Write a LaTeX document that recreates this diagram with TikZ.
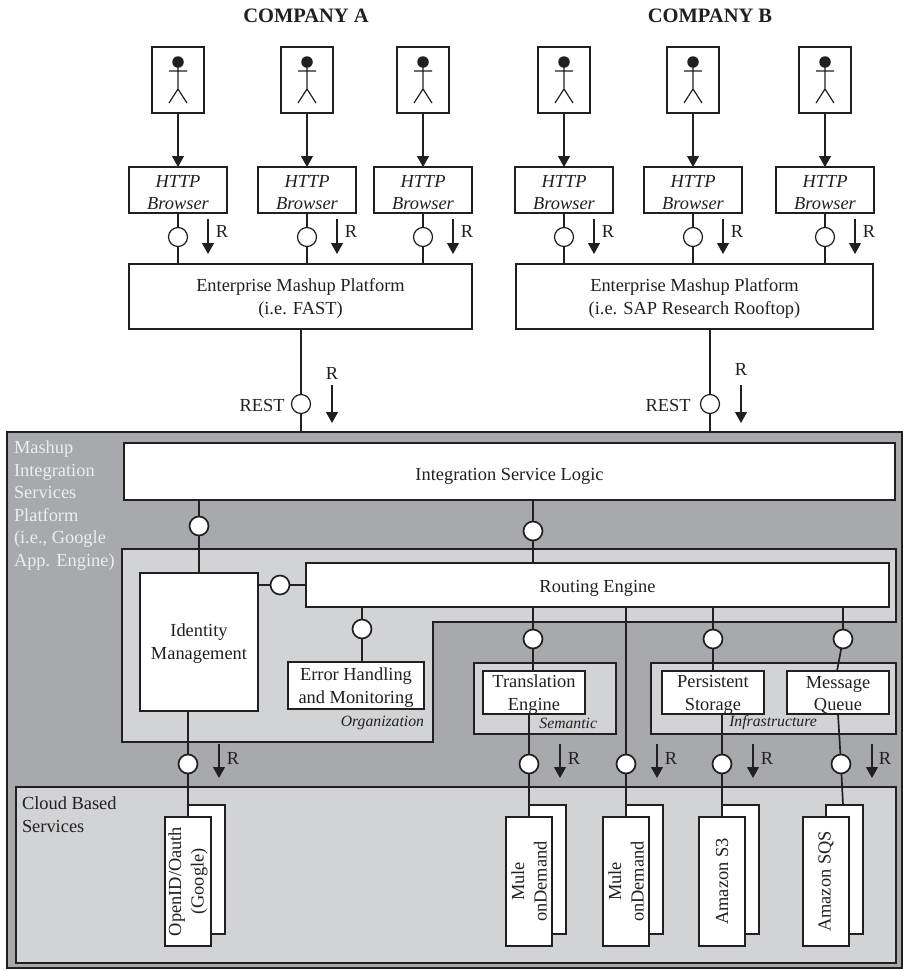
\documentclass[tikz,border=0pt]{standalone}
\usepackage{fontspec}
\setmainfont{Liberation Serif}
\usetikzlibrary{arrows.meta}
\pgfdeclarelayer{bg}\pgfdeclarelayer{wires}
\pgfsetlayers{bg,wires,main}
\definecolor{midgray}{HTML}{A7A9AC}
\definecolor{lightgray}{HTML}{D1D3D4}
\definecolor{ink}{HTML}{231F20}
\definecolor{paletext}{HTML}{ECEDED}
\newcommand{\rfont}{\fontsize{18.4}{22.5}\selectfont}
\newcommand{\ifont}{\fontsize{15.7}{18}\selectfont\itshape}
\newcommand{\dn}[1]{\rule{0pt}{#1pt}}
\tikzset{
  x=1pt,y=-1pt,
  every node/.style={text=ink,inner sep=0pt,outer sep=0pt,font=\rfont},
  upbox/.style={draw=ink,line width=1.2pt,fill=white,align=center},
  lowbox/.style={draw=ink,line width=1.7pt,fill=white,align=center},
  socketup/.style={circle,draw=ink,fill=white,line width=1.2pt,minimum size=19pt},
  socketlow/.style={circle,draw=ink,fill=white,line width=1.7pt,minimum size=19pt},
  wireup/.style={draw=ink,line width=1.2pt},
  wirelow/.style={draw=ink,line width=1.7pt},
  flow/.style={draw=ink,line width=1.2pt,-{Triangle[width=12pt,length=11pt]}},
  regionmid/.style={draw=ink,line width=1.7pt,fill=midgray},
  regionlight/.style={draw=ink,line width=1.5pt,fill=lightgray},
}
% box by corners: name, x1, y1, x2, y2, style, text
\newcommand{\rectbox}[7]{\node[#6,minimum width={(#4)-(#2)},minimum height={(#5)-(#3)}] (#1) at ({(#2+#4)/2},{(#3+#5)/2}) {#7};}
% rotated box by corners
\newcommand{\rotbox}[7]{\node[#6,rotate=90,minimum width={(#5)-(#3)},minimum height={(#4)-(#2)}] (#1) at ({(#2+#4)/2},{(#3+#5)/2}) {#7};}
% request arrow: name, x, y1, y2, label x, label y
\newcommand{\reqarrow}[6]{\coordinate (#1s) at (#2,#3);\coordinate (#1e) at (#2,#4);\draw[flow] (#1s) -- (#1e);\node (#1l) at (#5,#6) {R};}
% user, browser, socket, request arrow for a column
\newcommand{\usercol}[3]{%
  \rectbox{u#1}{#2-26}{47}{#2+26}{113}{upbox}{}
  \node[circle,fill=ink,minimum size=11.5pt] (h#1) at (#2,62) {};
  \coordinate (ab#1) at (#2,89);\coordinate (an#1) at (#2,67);
  \coordinate (al#1) at (#2-9,71);\coordinate (ar#1) at (#2+9,71);
  \coordinate (ll#1) at (#2-9,103);\coordinate (lr#1) at (#2+9,103);
  \draw[wireup] (an#1) -- (ab#1) (al#1) -- (ar#1) (ll#1) -- (ab#1) -- (lr#1);
  \rectbox{b#1}{#2-49}{167}{#2+49}{213}{upbox}{\dn{17}\itshape HTTP\\\itshape Browser}
  \draw[flow] (u#1) -- (b#1);
  \node[socketup] (c#1) at (#2,237) {};
  \reqarrow{r#1}{#2+30}{219}{254}{#2+44}{231}
  \begin{pgfonlayer}{wires}\draw[wireup] (b#1) -- (c#1) -- (c#1 |- #3.north);\end{pgfonlayer}
}
\begin{document}
\begin{tikzpicture}
\useasboundingbox (0,0) rectangle (903,970);
% titles
\node[font=\fontsize{20.5}{24}\selectfont\bfseries] (ta) at (306,16) {COMPANY A};
\node[font=\fontsize{20.5}{24}\selectfont\bfseries] (tb) at (710,16) {COMPANY B};
% platforms
\rectbox{pa}{129}{264}{472}{329}{upbox}{\dn{17}Enterprise Mashup Platform\\(i.e. FAST)}
\rectbox{pb}{516}{264}{873}{329}{upbox}{\dn{17}Enterprise Mashup Platform\\(i.e. SAP Research Rooftop)}
\usercol{1}{178}{pa}
\usercol{2}{307}{pa}
\usercol{3}{423}{pa}
\usercol{4}{564}{pb}
\usercol{5}{693}{pb}
\usercol{6}{825}{pb}
% regions
\begin{pgfonlayer}{bg}
\fill[white] (0,0) rectangle (903,970);
\rectbox{mis}{7}{432}{902}{968}{regionmid}{}
\draw[regionlight] (122,549) -- (896,549) -- (896,622) -- (433,622) -- (433,742) -- (122,742) -- cycle;
\rectbox{sem}{474}{663}{616}{734}{regionlight}{}
\rectbox{inf}{651}{663}{896}{734}{regionlight}{}
\rectbox{cloud}{16}{787}{896}{963}{regionlight}{}
\end{pgfonlayer}
% REST interfaces
\node[socketup] (ca) at (301,404) {};
\node[socketup] (cb) at (710,404) {};
\node (resta) at (262,405) {REST};
\node (restb) at (668,405) {REST};
\reqarrow{ra}{332}{385}{423}{332}{373}
\reqarrow{rb}{741}{385}{423}{741}{369}
% labels of regions
\node[text=paletext,anchor=north west,align=left] (lmis) at (14,441) {Mashup\\Integration\\Services\\Platform\\(i.e., Google\\App. Engine)};
\node[anchor=north west,align=left] (lcloud) at (22,797) {Cloud Based\\Services};
\node[font=\ifont,anchor=east] (lorg) at (424,723) {Organization};
\node[font=\ifont,anchor=east] (lsem) at (597,723) {Semantic};
\node[font=\ifont] (linf) at (773,723) {Infrastructure};
% main boxes
\rectbox{isl}{124}{443}{895}{500}{lowbox}{\dn{21}Integration Service Logic}
\rectbox{idm}{140}{573}{258}{711}{lowbox}{\dn{16}Identity\\Management}
\rectbox{rte}{306}{563}{889}{607}{lowbox}{\dn{19}Routing Engine}
\rectbox{err}{288}{662}{424}{709}{lowbox}{\dn{17}Error Handling\\and Monitoring}
\rectbox{tra}{483}{671}{585}{714}{lowbox}{\dn{17}Translation\\Engine}
\rectbox{per}{662}{671}{764}{714}{lowbox}{\dn{17}Persistent\\Storage}
\rectbox{msg}{787}{671}{889}{714}{lowbox}{\dn{17}Message\\Queue}
% cloud services
\rectbox{oidb}{188}{805}{225}{934}{lowbox}{}
\rotbox{oid}{165}{817}{211}{946}{lowbox}{OpenID/Oauth\\(Google)}
\rectbox{m1b}{529}{805}{566}{934}{lowbox}{}
\rotbox{m1}{506}{817}{552}{946}{lowbox}{Mule\\onDemand}
\rectbox{m2b}{626}{805}{663}{934}{lowbox}{}
\rotbox{m2}{603}{817}{649}{946}{lowbox}{Mule\\onDemand}
\rectbox{s3b}{722}{805}{759}{934}{lowbox}{}
\rotbox{s3}{699}{817}{745}{946}{lowbox}{Amazon S3}
\rectbox{sqb}{826}{805}{863}{934}{lowbox}{}
\rotbox{sq}{803}{817}{849}{946}{lowbox}{Amazon SQS}
% sockets
\node[socketlow] (s1) at (199,526) {};
\node[socketlow] (s2) at (533,531) {};
\node[socketlow] (s3c) at (280,585) {};
\node[socketlow] (s4) at (362,629) {};
\node[socketlow] (s5) at (533,639) {};
\node[socketlow] (s6) at (713,639) {};
\node[socketlow] (s7) at (843,639) {};
\node[socketlow] (d1) at (188,764) {};
\node[socketlow] (d2) at (529,764) {};
\node[socketlow] (d3) at (626,764) {};
\node[socketlow] (d4) at (722,764) {};
\node[socketlow] (d5) at (841,764) {};
% request arrows, lower row
\reqarrow{q1}{219}{744}{778}{233}{758}
\reqarrow{q2}{560}{744}{778}{574}{758}
\reqarrow{q3}{657}{744}{778}{671}{758}
\reqarrow{q4}{753}{744}{778}{767}{758}
\reqarrow{q5}{872}{744}{778}{885}{758}
% free ends for the slanted links
\coordinate (msgtop) at (837,671);
\coordinate (msgbot) at (838,714);
\coordinate (sqtop) at (843,805);
% connectors
\begin{pgfonlayer}{wires}
\draw[wireup] (pa.south -| ca) -- (ca) -- (ca |- mis.north);
\draw[wireup] (pb.south -| cb) -- (cb) -- (cb |- mis.north);
\draw[wirelow] (isl.south -| s1) -- (s1) -- (s1 |- idm.north);
\draw[wirelow] (isl.south -| s2) -- (s2) -- (s2 |- rte.north);
\draw[wirelow] (idm.east |- s3c) -- (s3c) -- (rte.west |- s3c);
\draw[wirelow] (rte.south -| s4) -- (s4) -- (s4 |- err.north);
\draw[wirelow] (rte.south -| s5) -- (s5) -- (s5 |- tra.north);
\draw[wirelow] (rte.south -| s6) -- (s6) -- (s6 |- per.north);
\draw[wirelow] (rte.south -| s7) -- (s7) -- (msgtop);
\draw[wirelow] (rte.south -| d3) -- (d3) -- (d3 |- m2b.north);
\draw[wirelow] (idm.south -| d1) -- (d1) -- (d1 |- oidb.north);
\draw[wirelow] (tra.south -| d2) -- (d2) -- (d2 |- m1b.north);
\draw[wirelow] (per.south -| d4) -- (d4) -- (d4 |- s3b.north);
\draw[wirelow] (msgbot) -- (d5) -- (sqtop);
\end{pgfonlayer}
\end{tikzpicture}
\end{document}
